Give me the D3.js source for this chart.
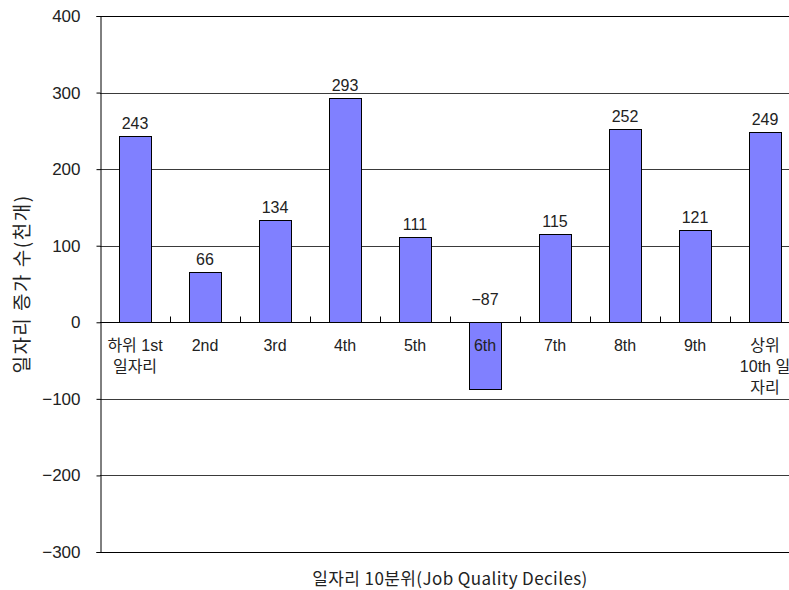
<!DOCTYPE html>
<html>
<head>
<meta charset="utf-8">
<script src="https://cdn.jsdelivr.net/npm/d3@7"></script>
<style>
  html, body { margin: 0; padding: 0; background: #fff; }
  svg { display: block; }
  text { font-family: "Liberation Sans", "Noto Sans CJK KR", sans-serif; fill: #222; }
</style>
</head>
<body>
<script>
// Job growth by job-quality decile (thousands)
const categoryLines = [
  ["하위 1st", "일자리"],
  ["2nd"],
  ["3rd"],
  ["4th"],
  ["5th"],
  ["6th"],
  ["7th"],
  ["8th"],
  ["9th"],
  ["상위", "10th 일", "자리"]
];
const values = [243, 66, 134, 293, 111, -87, 115, 252, 121, 249];
const yTicks = [-300, -200, -100, 0, 100, 200, 300, 400];
const yTitle = "일자리 증가 수(천개)";
const xTitle = "일자리 10분위(Job Quality Deciles)";

const W = 789, H = 590;
const plotL = 100, plotR = 800, plotT = 16, plotB = 552;

const svg = d3.select("body").append("svg").attr("width", W).attr("height", H);
svg.append("rect").attr("width", W).attr("height", H).attr("fill", "#fff");

const x = d3.scaleBand().domain(d3.range(values.length)).range([plotL, plotR]).padding(0);
const y = d3.scaleLinear().domain([-300, 400]).range([plotB, plotT]);
const barW = x.bandwidth() * 0.46;

// horizontal gridlines
svg.append("g").selectAll("line").data(yTicks.filter(v => v !== 0 && v !== -300 && v !== 400)).join("line")
  .attr("x1", plotL).attr("x2", plotR)
  .attr("y1", d => Math.round(y(d)) + 0.5).attr("y2", d => Math.round(y(d)) + 0.5)
  .attr("stroke", "#3a3a3a").attr("stroke-width", 1);

// frame: top and bottom
[400, -300].forEach(v => {
  svg.append("line").attr("x1", plotL).attr("x2", plotR)
    .attr("y1", Math.round(y(v)) + 0.5).attr("y2", Math.round(y(v)) + 0.5)
    .attr("stroke", "#000").attr("stroke-width", 1);
});

// bars
svg.append("g").selectAll("rect").data(values).join("rect")
  .attr("x", (d, i) => Math.round(x(i) + (x.bandwidth() - barW) / 2) + 0.5)
  .attr("y", d => Math.round(y(Math.max(d, 0))) + 0.5)
  .attr("width", Math.round(barW))
  .attr("height", d => Math.abs(Math.round(y(d)) - Math.round(y(0))))
  .attr("fill", "#8080ff").attr("stroke", "#000").attr("stroke-width", 1);

// zero line with category boundary ticks
const y0 = Math.round(y(0)) + 0.5;
svg.append("line").attr("x1", plotL).attr("x2", plotR).attr("y1", y0).attr("y2", y0)
  .attr("stroke", "#000").attr("stroke-width", 1);
svg.append("g").selectAll("line").data(d3.range(1, values.length + 1)).join("line")
  .attr("x1", i => Math.round(x(0) + i * x.step()) + 0.5)
  .attr("x2", i => Math.round(x(0) + i * x.step()) + 0.5)
  .attr("y1", y0).attr("y2", y0 - 6)
  .attr("stroke", "#000").attr("stroke-width", 1);

// left axis
const yAxis = svg.append("g").attr("transform", `translate(${plotL + 0.5},0)`)
  .call(d3.axisLeft(y).tickValues(yTicks).tickSize(4).tickPadding(16));
yAxis.select(".domain").attr("stroke", "#000");
yAxis.selectAll(".tick line").attr("stroke", "#000");
yAxis.selectAll(".tick text")
  .style("font-size", "17px").attr("fill", "#222")
  .style("font-family", "'Liberation Sans', sans-serif");

// value labels
svg.append("g").selectAll("text").data(values).join("text")
  .attr("x", (d, i) => x(i) + x.bandwidth() / 2)
  .attr("y", d => d >= 0 ? y(d) - 7 : y(0) - 17)
  .attr("text-anchor", "middle")
  .style("font-size", "16px")
  .text(d => d3.format("")(d));

// category labels
const cat = svg.append("g").selectAll("text").data(categoryLines).join("text")
  .attr("text-anchor", "middle")
  .style("font-size", "16px");
cat.each(function(lines, i) {
  d3.select(this).selectAll("tspan").data(lines).join("tspan")
    .attr("x", x(i) + x.bandwidth() / 2)
    .attr("y", (l, k) => 351 + k * 21)
    .text(l => l);
});

// axis titles
svg.append("text")
  .attr("transform", `translate(29,${(plotT + plotB) / 2}) rotate(-90)`)
  .attr("text-anchor", "middle")
  .style("font-size", "19px")
  .style("letter-spacing", "1.5px")
  .style("font-family", "'Noto Sans CJK KR', sans-serif")
  .text(yTitle);

svg.append("text")
  .attr("x", (plotL + plotR) / 2).attr("y", 585)
  .attr("text-anchor", "middle")
  .style("font-size", "17px")
  .style("letter-spacing", "0.4px")
  .style("font-family", "'Noto Sans CJK KR', sans-serif")
  .text(xTitle);
</script>
</body>
</html>
